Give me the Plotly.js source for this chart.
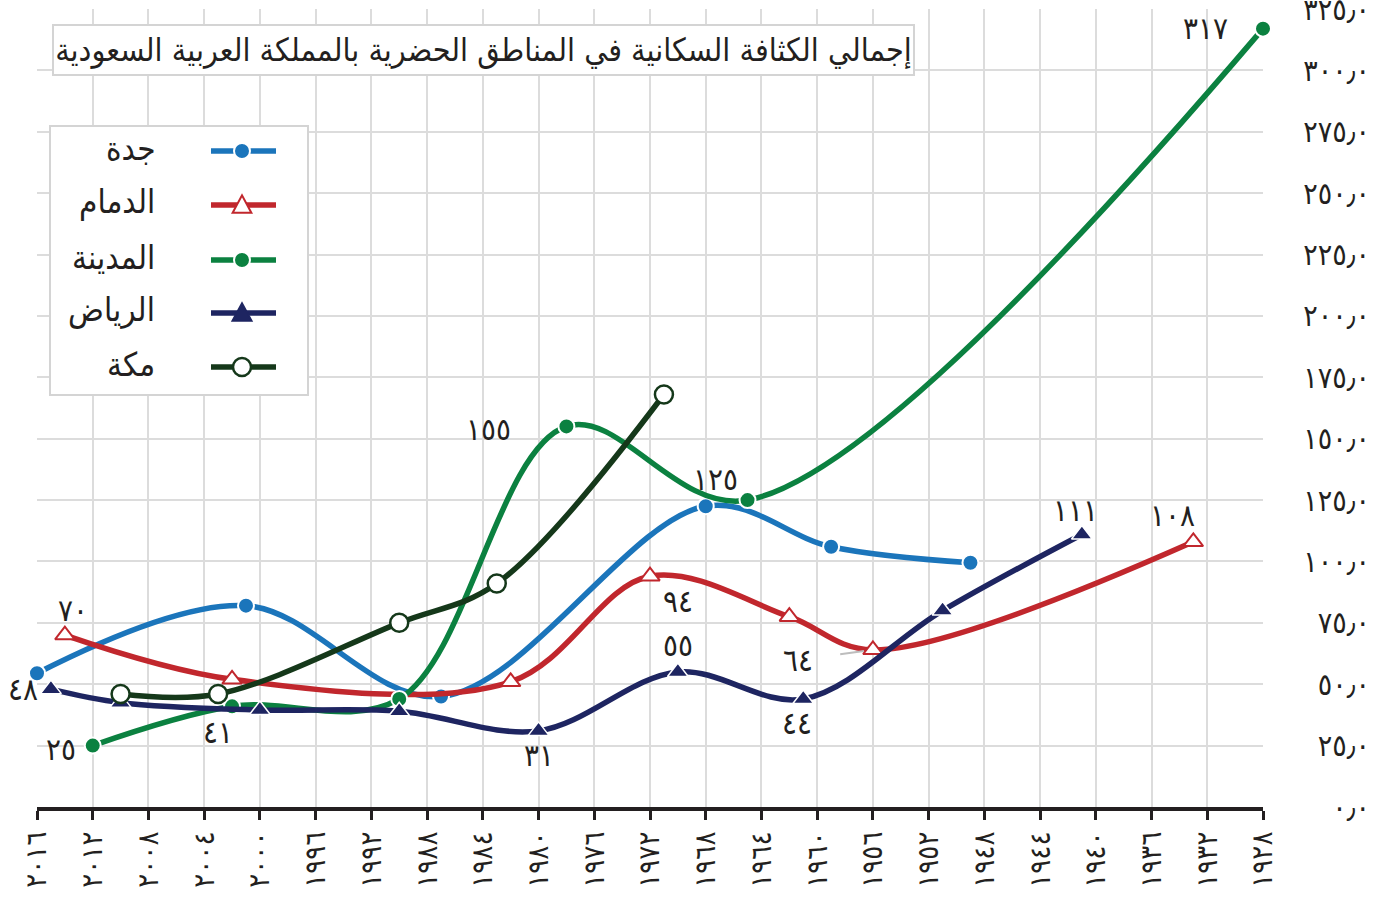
<!DOCTYPE html>
<html>
<head>
<meta charset="utf-8">
<script src="https://cdn.plot.ly/plotly-3.0.1.min.js"></script>
<style>
  html, body { margin: 0; padding: 0; background: #ffffff; }
  #chart { width: 1384px; height: 897px; }
</style>
</head>
<body>
<div id="chart"></div>
<script>
// ---------------- data ----------------
const titleText = "إجمالي الكثافة السكانية في المناطق الحضرية بالمملكة العربية السعودية";

const seriesNames = ["جدة", "الدمام", "المدينة", "الرياض", "مكة"];

const jeddahYears = [2016, 2001, 1987, 1968, 1959, 1949];
const jeddahValues = [54.5, 82, 45, 122.5, 106, 99.5];

const dammamYears = [2014, 2002, 1982, 1972, 1962, 1956, 1933];
const dammamValues = [70, 52, 51, 94, 77.5, 64, 108];

const madinaYears = [2012, 2002, 1990, 1978, 1965, 1928];
const madinaValues = [25, 41, 44, 155, 125, 317];

const riyadhYears = [2015, 2010, 2000, 1990, 1980, 1970, 1961, 1951, 1941];
const riyadhValues = [48, 42.5, 39.5, 39, 31, 55, 44, 80, 111];

const makkahYears = [2010, 2003, 1990, 1983, 1971];
const makkahValues = [46, 46, 75, 91, 168];

const xTickYears = [2016, 2012, 2008, 2004, 2000, 1996, 1992, 1988, 1984, 1980, 1976, 1972,
                    1968, 1964, 1960, 1956, 1952, 1948, 1944, 1940, 1936, 1932, 1928];
const yTickValues = [0, 25, 50, 75, 100, 125, 150, 175, 200, 225, 250, 275, 300, 325];

// which points carry a value label: [seriesIndex, pointIndex, dx, dy] (screen px, +dy = down)
const labelPoints = [
  [3, 0, -28, 0], [1, 0, 8, -25], [2, 0, -32, 3], [2, 1, -14, 26],
  [2, 3, -78, 3], [3, 4, 0, 24], [3, 5, 0, -27], [1, 3, 28, 25],
  [2, 4, -32, -21], [3, 6, -6, 24], [3, 8, -6, -24], [1, 6, -21, -27],
  [2, 5, -58, -1]
];

// ---------------- helpers ----------------
const AR = "٠١٢٣٤٥٦٧٨٩";
function toArabic(s) {
  return String(s).replace(/[0-9]/g, d => AR[+d]).replace(/\./g, "٫");
}
const xTickText = xTickYears.map(y => toArabic(y));
const yTickText = yTickValues.map(v => toArabic(v.toFixed(1)));

const FONT = "DejaVu Sans Condensed, DejaVu Sans, sans-serif";
const INK = "#231f20";

// page geometry
const W = 1384, H = 897;
const M = { l: 37, r: 14, t: 9, b: 90 };
const PW = W - M.l - M.r, PH = H - M.t - M.b;
const px = x => (x - M.l) / PW;
const py = y => (H - M.b - y) / PH;

const styles = [
  { color: "#1b75bb", symbol: "circle", size: 16, fill: "#1b75bb", lw: 2, lc: "#ffffff" },
  { color: "#c1272d", symbol: "triangle-up", size: 17, fill: "#ffffff", lw: 2, lc: "#c1272d" },
  { color: "#0b8140", symbol: "circle", size: 16, fill: "#0b8140", lw: 2, lc: "#ffffff" },
  { color: "#1e2561", symbol: "triangle-up", size: 18, fill: "#1e2561", lw: 1.5, lc: "#ffffff" },
  { color: "#15381a", symbol: "circle", size: 18, fill: "#ffffff", lw: 2.5, lc: "#15381a" }
];
const xsAll = [jeddahYears, dammamYears, madinaYears, riyadhYears, makkahYears];
const ysAll = [jeddahValues, dammamValues, madinaValues, riyadhValues, makkahValues];

const traces = seriesNames.map((name, i) => ({
  type: "scatter",
  mode: "lines+markers",
  name: name,
  x: xsAll[i],
  y: ysAll[i],
  cliponaxis: false,
  line: { color: styles[i].color, width: 5.5, shape: "spline", smoothing: 1 },
  marker: {
    symbol: styles[i].symbol, size: styles[i].size, color: styles[i].fill,
    line: { color: styles[i].lc, width: styles[i].lw }
  },
  showlegend: false,
  hoverinfo: "skip"
}));
// empty trace so the right-hand value axis (y2) is drawn
traces.push({ type: "scatter", x: [null], y: [null], xaxis: "x", yaxis: "y2",
              mode: "markers", showlegend: false, hoverinfo: "skip" });

// ---------------- annotations ----------------
const annotations = [];
annotations.push({
  xref: "paper", yref: "paper", x: px(483), y: py(50),
  xanchor: "center", yanchor: "middle",
  text: titleText, showarrow: false,
  font: { family: FONT, size: 32, color: INK },
  bgcolor: "#ffffff", bordercolor: "#d4d4d4", borderwidth: 2,
  width: 857, height: 46, borderpad: 1
});

const LABEL_SIZE = 31;
labelPoints.forEach(([s, p, dx, dy]) => {
  annotations.push({
    x: xsAll[s][p], y: ysAll[s][p], xref: "x", yref: "y",
    text: toArabic(Math.round(ysAll[s][p])), showarrow: false,
    xshift: dx, yshift: -dy, xanchor: "center", yanchor: "middle",
    font: { family: FONT, size: LABEL_SIZE, color: INK }
  });
});
// label with leader line (الدمام 64)
annotations.push({
  x: dammamYears[5], y: dammamValues[5], xref: "x", yref: "y",
  text: toArabic(Math.round(dammamValues[5])), showarrow: true,
  ax: -75, ay: 10, arrowhead: 0, arrowwidth: 2, arrowcolor: "#bdbdbd",
  standoff: 9, startstandoff: 26,
  font: { family: FONT, size: LABEL_SIZE, color: INK }
});

// ---------------- legend (right-to-left: text then symbol) ----------------
const shapes = [];
shapes.push({
  type: "rect", xref: "paper", yref: "paper", layer: "above",
  x0: px(50), x1: px(308), y0: py(395), y1: py(126),
  fillcolor: "#ffffff", line: { color: "#d4d4d4", width: 2 }
});
const legendRows = [151, 205, 260, 313, 367];
seriesNames.forEach((name, i) => {
  const yy = legendRows[i];
  const st = styles[i];
  shapes.push({
    type: "line", xref: "paper", yref: "paper", layer: "above",
    x0: px(211), x1: px(276), y0: py(yy), y1: py(yy),
    line: { color: st.color, width: 5.5 }
  });
  const r = st.size / 2;
  if (st.symbol === "circle") {
    shapes.push({
      type: "circle", xref: "paper", yref: "paper", layer: "above",
      x0: px(242 - r), x1: px(242 + r), y0: py(yy + r), y1: py(yy - r),
      fillcolor: st.fill, line: { color: st.lc, width: st.lw }
    });
  } else {
    const h = st.size * 0.9, hw = st.size * 0.55;
    shapes.push({
      type: "path", xref: "paper", yref: "paper", layer: "above",
      path: `M ${px(242 - hw)},${py(yy + h / 2)} L ${px(242 + hw)},${py(yy + h / 2)} L ${px(242)},${py(yy - h / 2 - 2)} Z`,
      fillcolor: st.fill, line: { color: st.lc === "#ffffff" ? st.fill : st.lc, width: st.lw }
    });
  }
  annotations.push({
    xref: "paper", yref: "paper", x: px(157), y: py(yy - 3),
    xanchor: "right", yanchor: "middle", showarrow: false,
    text: name, font: { family: FONT, size: 33, color: INK }
  });
});

// ---------------- layout ----------------
const layout = {
  width: W, height: H,
  margin: M,
  paper_bgcolor: "#ffffff", plot_bgcolor: "#ffffff",
  showlegend: false,
  font: { family: FONT, color: INK },
  xaxis: {
    domain: [0, (1263 - M.l) / PW],
    range: [2016, 1928],
    tickmode: "array", tickvals: xTickYears, ticktext: xTickText,
    tickangle: -90,
    tickfont: { family: FONT, size: 29, color: INK },
    ticks: "outside", ticklen: 9, tickwidth: 3, tickcolor: INK,
    showline: true, linewidth: 4, linecolor: INK,
    showgrid: true, gridcolor: "#dcdcdc", gridwidth: 2,
    zeroline: false, fixedrange: true
  },
  yaxis: {
    range: [0, 325],
    tickmode: "array", tickvals: yTickValues,
    showticklabels: false, ticks: "",
    showgrid: true, gridcolor: "#dcdcdc", gridwidth: 2,
    showline: false, zeroline: false, fixedrange: true
  },
  yaxis2: {
    overlaying: "y", anchor: "free", position: 1, side: "left",
    range: [0, 325],
    tickmode: "array", tickvals: yTickValues, ticktext: yTickText,
    tickfont: { family: FONT, size: 30, color: INK },
    ticklabeloverflow: "allow",
    ticks: "", showgrid: false, showline: false, zeroline: false, fixedrange: true
  },
  annotations: annotations,
  shapes: shapes
};

Plotly.newPlot("chart", traces, layout, { displayModeBar: false, staticPlot: true });
</script>
</body>
</html>
